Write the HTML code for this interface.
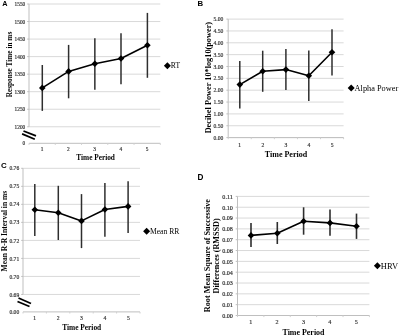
<!DOCTYPE html>
<html><head><meta charset="utf-8"><style>
html,body{margin:0;padding:0;background:#fff;width:400px;height:336px;overflow:hidden}
svg{display:block;will-change:transform}
text{font-family:"Liberation Serif",serif}
text.s{font-family:"Liberation Sans",sans-serif}
</style></head><body>
<svg width="400" height="336" viewBox="0 0 400 336">
<rect width="400" height="336" fill="#fff"/>
<line x1="29" y1="4" x2="160.3" y2="4" stroke="#d9d9d9" stroke-width="1" />
<line x1="29" y1="21.54" x2="160.3" y2="21.54" stroke="#d9d9d9" stroke-width="1" />
<line x1="29" y1="39.08" x2="160.3" y2="39.08" stroke="#d9d9d9" stroke-width="1" />
<line x1="29" y1="56.62" x2="160.3" y2="56.62" stroke="#d9d9d9" stroke-width="1" />
<line x1="29" y1="74.16" x2="160.3" y2="74.16" stroke="#d9d9d9" stroke-width="1" />
<line x1="29" y1="91.7" x2="160.3" y2="91.7" stroke="#d9d9d9" stroke-width="1" />
<line x1="29" y1="109.24" x2="160.3" y2="109.24" stroke="#d9d9d9" stroke-width="1" />
<line x1="29" y1="126.78" x2="160.3" y2="126.78" stroke="#d9d9d9" stroke-width="1" />
<text x="25.2" y="6.01" font-size="5.3" font-weight="normal" text-anchor="end" fill="#2a2a2a" stroke="#2a2a2a" stroke-width="0.15">1550</text>
<text x="25.2" y="23.55" font-size="5.3" font-weight="normal" text-anchor="end" fill="#2a2a2a" stroke="#2a2a2a" stroke-width="0.15">1500</text>
<text x="25.2" y="41.09" font-size="5.3" font-weight="normal" text-anchor="end" fill="#2a2a2a" stroke="#2a2a2a" stroke-width="0.15">1450</text>
<text x="25.2" y="58.63" font-size="5.3" font-weight="normal" text-anchor="end" fill="#2a2a2a" stroke="#2a2a2a" stroke-width="0.15">1400</text>
<text x="25.2" y="76.17" font-size="5.3" font-weight="normal" text-anchor="end" fill="#2a2a2a" stroke="#2a2a2a" stroke-width="0.15">1350</text>
<text x="25.2" y="93.71" font-size="5.3" font-weight="normal" text-anchor="end" fill="#2a2a2a" stroke="#2a2a2a" stroke-width="0.15">1300</text>
<text x="25.2" y="111.25" font-size="5.3" font-weight="normal" text-anchor="end" fill="#2a2a2a" stroke="#2a2a2a" stroke-width="0.15">1250</text>
<text x="25.2" y="128.79" font-size="5.3" font-weight="normal" text-anchor="end" fill="#2a2a2a" stroke="#2a2a2a" stroke-width="0.15">1200</text>
<text x="25.2" y="145.31" font-size="5.3" font-weight="normal" text-anchor="end" fill="#2a2a2a" stroke="#2a2a2a" stroke-width="0.15">0</text>
<line x1="27.2" y1="4" x2="29" y2="4" stroke="#bfbfbf" stroke-width="1" />
<line x1="27.2" y1="21.54" x2="29" y2="21.54" stroke="#bfbfbf" stroke-width="1" />
<line x1="27.2" y1="39.08" x2="29" y2="39.08" stroke="#bfbfbf" stroke-width="1" />
<line x1="27.2" y1="56.62" x2="29" y2="56.62" stroke="#bfbfbf" stroke-width="1" />
<line x1="27.2" y1="74.16" x2="29" y2="74.16" stroke="#bfbfbf" stroke-width="1" />
<line x1="27.2" y1="91.7" x2="29" y2="91.7" stroke="#bfbfbf" stroke-width="1" />
<line x1="27.2" y1="109.24" x2="29" y2="109.24" stroke="#bfbfbf" stroke-width="1" />
<line x1="27.2" y1="126.78" x2="29" y2="126.78" stroke="#bfbfbf" stroke-width="1" />
<line x1="29" y1="4" x2="29" y2="126.8" stroke="#bfbfbf" stroke-width="1" />
<line x1="29" y1="143.3" x2="160.3" y2="143.3" stroke="#bfbfbf" stroke-width="1" />
<line x1="29" y1="143.3" x2="29" y2="144.9" stroke="#d0d0d0" stroke-width="1" />
<line x1="55.26" y1="143.3" x2="55.26" y2="144.9" stroke="#d0d0d0" stroke-width="1" />
<line x1="81.52" y1="143.3" x2="81.52" y2="144.9" stroke="#d0d0d0" stroke-width="1" />
<line x1="107.78" y1="143.3" x2="107.78" y2="144.9" stroke="#d0d0d0" stroke-width="1" />
<line x1="134.04" y1="143.3" x2="134.04" y2="144.9" stroke="#d0d0d0" stroke-width="1" />
<line x1="160.3" y1="143.3" x2="160.3" y2="144.9" stroke="#d0d0d0" stroke-width="1" />
<text x="42.13" y="151.3" font-size="5.3" font-weight="normal" text-anchor="middle" fill="#2a2a2a" stroke="#2a2a2a" stroke-width="0.15">1</text>
<text x="68.39" y="151.3" font-size="5.3" font-weight="normal" text-anchor="middle" fill="#2a2a2a" stroke="#2a2a2a" stroke-width="0.15">2</text>
<text x="94.65" y="151.3" font-size="5.3" font-weight="normal" text-anchor="middle" fill="#2a2a2a" stroke="#2a2a2a" stroke-width="0.15">3</text>
<text x="120.91" y="151.3" font-size="5.3" font-weight="normal" text-anchor="middle" fill="#2a2a2a" stroke="#2a2a2a" stroke-width="0.15">4</text>
<text x="147.17" y="151.3" font-size="5.3" font-weight="normal" text-anchor="middle" fill="#2a2a2a" stroke="#2a2a2a" stroke-width="0.15">5</text>
<line x1="23.5" y1="131" x2="36" y2="135.9" stroke="#000" stroke-width="1.8" />
<line x1="22.1" y1="133.9" x2="34.8" y2="139.25" stroke="#000" stroke-width="1.8" />
<line x1="42.3" y1="65" x2="42.3" y2="110.9" stroke="#2e2e2e" stroke-width="1.5" />
<line x1="68.6" y1="44.9" x2="68.6" y2="98.3" stroke="#2e2e2e" stroke-width="1.5" />
<line x1="94.85" y1="38.3" x2="94.85" y2="89.7" stroke="#2e2e2e" stroke-width="1.5" />
<line x1="121" y1="33.2" x2="121" y2="84.3" stroke="#2e2e2e" stroke-width="1.5" />
<line x1="147.4" y1="12.9" x2="147.4" y2="77.8" stroke="#2e2e2e" stroke-width="1.5" />
<polyline points="42.3,87.9 68.6,71.4 94.85,63.8 121,58.5 147.4,45.3" fill="none" stroke="#000" stroke-width="1.6" stroke-linejoin="round"/>
<path d="M42.3 84.6L45.6 87.9L42.3 91.2L39 87.9Z" fill="#000"/>
<path d="M68.6 68.1L71.9 71.4L68.6 74.7L65.3 71.4Z" fill="#000"/>
<path d="M94.85 60.5L98.15 63.8L94.85 67.1L91.55 63.8Z" fill="#000"/>
<path d="M121 55.2L124.3 58.5L121 61.8L117.7 58.5Z" fill="#000"/>
<path d="M147.4 42L150.7 45.3L147.4 48.6L144.1 45.3Z" fill="#000"/>
<text x="95.65" y="160" font-size="7.3" font-weight="bold" text-anchor="middle" fill="#000" >Time Period</text>
<text x="0" y="0" font-size="7.3" font-weight="bold" text-anchor="middle" fill="#000" transform="translate(12.2 64.55) rotate(-90)">Response Time in ms</text>
<path d="M167.4 62.2L170.9 65.7L167.4 69.2L163.9 65.7Z" fill="#000"/>
<text x="170.8" y="68.21" font-size="7.6" font-weight="normal" text-anchor="start" fill="#000" >RT</text>
<text x="2.2" y="6.2" class="s" font-size="7.3" font-weight="bold" text-anchor="start" fill="#000" >A</text>
<line x1="228.2" y1="19.1" x2="343.6" y2="19.1" stroke="#d9d9d9" stroke-width="1" />
<line x1="228.2" y1="30.95" x2="343.6" y2="30.95" stroke="#d9d9d9" stroke-width="1" />
<line x1="228.2" y1="42.8" x2="343.6" y2="42.8" stroke="#d9d9d9" stroke-width="1" />
<line x1="228.2" y1="54.65" x2="343.6" y2="54.65" stroke="#d9d9d9" stroke-width="1" />
<line x1="228.2" y1="66.5" x2="343.6" y2="66.5" stroke="#d9d9d9" stroke-width="1" />
<line x1="228.2" y1="78.35" x2="343.6" y2="78.35" stroke="#d9d9d9" stroke-width="1" />
<line x1="228.2" y1="90.2" x2="343.6" y2="90.2" stroke="#d9d9d9" stroke-width="1" />
<line x1="228.2" y1="102.05" x2="343.6" y2="102.05" stroke="#d9d9d9" stroke-width="1" />
<line x1="228.2" y1="113.9" x2="343.6" y2="113.9" stroke="#d9d9d9" stroke-width="1" />
<line x1="228.2" y1="125.75" x2="343.6" y2="125.75" stroke="#d9d9d9" stroke-width="1" />
<line x1="228.2" y1="137.6" x2="343.6" y2="137.6" stroke="#d9d9d9" stroke-width="1" />
<text x="223.3" y="21.23" font-size="5.6" font-weight="normal" text-anchor="end" fill="#2a2a2a" stroke="#2a2a2a" stroke-width="0.15">5.00</text>
<text x="223.3" y="33.08" font-size="5.6" font-weight="normal" text-anchor="end" fill="#2a2a2a" stroke="#2a2a2a" stroke-width="0.15">4.50</text>
<text x="223.3" y="44.93" font-size="5.6" font-weight="normal" text-anchor="end" fill="#2a2a2a" stroke="#2a2a2a" stroke-width="0.15">4.00</text>
<text x="223.3" y="56.78" font-size="5.6" font-weight="normal" text-anchor="end" fill="#2a2a2a" stroke="#2a2a2a" stroke-width="0.15">3.50</text>
<text x="223.3" y="68.63" font-size="5.6" font-weight="normal" text-anchor="end" fill="#2a2a2a" stroke="#2a2a2a" stroke-width="0.15">3.00</text>
<text x="223.3" y="80.48" font-size="5.6" font-weight="normal" text-anchor="end" fill="#2a2a2a" stroke="#2a2a2a" stroke-width="0.15">2.50</text>
<text x="223.3" y="92.33" font-size="5.6" font-weight="normal" text-anchor="end" fill="#2a2a2a" stroke="#2a2a2a" stroke-width="0.15">2.00</text>
<text x="223.3" y="104.18" font-size="5.6" font-weight="normal" text-anchor="end" fill="#2a2a2a" stroke="#2a2a2a" stroke-width="0.15">1.50</text>
<text x="223.3" y="116.03" font-size="5.6" font-weight="normal" text-anchor="end" fill="#2a2a2a" stroke="#2a2a2a" stroke-width="0.15">1.00</text>
<text x="223.3" y="127.88" font-size="5.6" font-weight="normal" text-anchor="end" fill="#2a2a2a" stroke="#2a2a2a" stroke-width="0.15">0.50</text>
<text x="223.3" y="139.73" font-size="5.6" font-weight="normal" text-anchor="end" fill="#2a2a2a" stroke="#2a2a2a" stroke-width="0.15">0.00</text>
<line x1="226.4" y1="19.1" x2="228.2" y2="19.1" stroke="#bfbfbf" stroke-width="1" />
<line x1="226.4" y1="30.95" x2="228.2" y2="30.95" stroke="#bfbfbf" stroke-width="1" />
<line x1="226.4" y1="42.8" x2="228.2" y2="42.8" stroke="#bfbfbf" stroke-width="1" />
<line x1="226.4" y1="54.65" x2="228.2" y2="54.65" stroke="#bfbfbf" stroke-width="1" />
<line x1="226.4" y1="66.5" x2="228.2" y2="66.5" stroke="#bfbfbf" stroke-width="1" />
<line x1="226.4" y1="78.35" x2="228.2" y2="78.35" stroke="#bfbfbf" stroke-width="1" />
<line x1="226.4" y1="90.2" x2="228.2" y2="90.2" stroke="#bfbfbf" stroke-width="1" />
<line x1="226.4" y1="102.05" x2="228.2" y2="102.05" stroke="#bfbfbf" stroke-width="1" />
<line x1="226.4" y1="113.9" x2="228.2" y2="113.9" stroke="#bfbfbf" stroke-width="1" />
<line x1="226.4" y1="125.75" x2="228.2" y2="125.75" stroke="#bfbfbf" stroke-width="1" />
<line x1="226.4" y1="137.6" x2="228.2" y2="137.6" stroke="#bfbfbf" stroke-width="1" />
<line x1="228.2" y1="19.1" x2="228.2" y2="137.6" stroke="#bfbfbf" stroke-width="1" />
<line x1="228.2" y1="137.6" x2="343.6" y2="137.6" stroke="#bfbfbf" stroke-width="1" />
<line x1="228.2" y1="137.6" x2="228.2" y2="139.2" stroke="#d0d0d0" stroke-width="1" />
<line x1="251.28" y1="137.6" x2="251.28" y2="139.2" stroke="#d0d0d0" stroke-width="1" />
<line x1="274.36" y1="137.6" x2="274.36" y2="139.2" stroke="#d0d0d0" stroke-width="1" />
<line x1="297.44" y1="137.6" x2="297.44" y2="139.2" stroke="#d0d0d0" stroke-width="1" />
<line x1="320.52" y1="137.6" x2="320.52" y2="139.2" stroke="#d0d0d0" stroke-width="1" />
<line x1="343.6" y1="137.6" x2="343.6" y2="139.2" stroke="#d0d0d0" stroke-width="1" />
<text x="239.74" y="146.6" font-size="5.6" font-weight="normal" text-anchor="middle" fill="#2a2a2a" stroke="#2a2a2a" stroke-width="0.15">1</text>
<text x="262.82" y="146.6" font-size="5.6" font-weight="normal" text-anchor="middle" fill="#2a2a2a" stroke="#2a2a2a" stroke-width="0.15">2</text>
<text x="285.9" y="146.6" font-size="5.6" font-weight="normal" text-anchor="middle" fill="#2a2a2a" stroke="#2a2a2a" stroke-width="0.15">3</text>
<text x="308.98" y="146.6" font-size="5.6" font-weight="normal" text-anchor="middle" fill="#2a2a2a" stroke="#2a2a2a" stroke-width="0.15">4</text>
<text x="332.06" y="146.6" font-size="5.6" font-weight="normal" text-anchor="middle" fill="#2a2a2a" stroke="#2a2a2a" stroke-width="0.15">5</text>
<line x1="239.8" y1="60.9" x2="239.8" y2="108.5" stroke="#2e2e2e" stroke-width="1.5" />
<line x1="262.7" y1="50.7" x2="262.7" y2="91.8" stroke="#2e2e2e" stroke-width="1.5" />
<line x1="285.9" y1="49" x2="285.9" y2="90.1" stroke="#2e2e2e" stroke-width="1.5" />
<line x1="308.8" y1="50.4" x2="308.8" y2="101" stroke="#2e2e2e" stroke-width="1.5" />
<line x1="332" y1="29.2" x2="332" y2="75.4" stroke="#2e2e2e" stroke-width="1.5" />
<polyline points="239.8,84.6 262.7,71.2 285.9,69.6 308.8,75.8 332,52.2" fill="none" stroke="#000" stroke-width="1.6" stroke-linejoin="round"/>
<path d="M239.8 81.3L243.1 84.6L239.8 87.9L236.5 84.6Z" fill="#000"/>
<path d="M262.7 67.9L266 71.2L262.7 74.5L259.4 71.2Z" fill="#000"/>
<path d="M285.9 66.3L289.2 69.6L285.9 72.9L282.6 69.6Z" fill="#000"/>
<path d="M308.8 72.5L312.1 75.8L308.8 79.1L305.5 75.8Z" fill="#000"/>
<path d="M332 48.9L335.3 52.2L332 55.5L328.7 52.2Z" fill="#000"/>
<text x="286" y="156.9" font-size="8" font-weight="bold" text-anchor="middle" fill="#000" >Time Period</text>
<text x="0" y="0" font-size="8.27" font-weight="bold" text-anchor="middle" fill="#000" transform="translate(210.8 77.65) rotate(-90)">Decibel Power 10*log10(power)</text>
<path d="M351.2 84.5L354.7 88L351.2 91.5L347.7 88Z" fill="#000"/>
<text x="354.6" y="90.74" font-size="8.3" font-weight="normal" text-anchor="start" fill="#000" >Alpha Power</text>
<text x="197.4" y="6.3" class="s" font-size="7.8" font-weight="bold" text-anchor="start" fill="#000" >B</text>
<line x1="23" y1="168.3" x2="140" y2="168.3" stroke="#d9d9d9" stroke-width="1" />
<line x1="23" y1="186.32" x2="140" y2="186.32" stroke="#d9d9d9" stroke-width="1" />
<line x1="23" y1="204.34" x2="140" y2="204.34" stroke="#d9d9d9" stroke-width="1" />
<line x1="23" y1="222.36" x2="140" y2="222.36" stroke="#d9d9d9" stroke-width="1" />
<line x1="23" y1="240.38" x2="140" y2="240.38" stroke="#d9d9d9" stroke-width="1" />
<line x1="23" y1="258.4" x2="140" y2="258.4" stroke="#d9d9d9" stroke-width="1" />
<line x1="23" y1="276.42" x2="140" y2="276.42" stroke="#d9d9d9" stroke-width="1" />
<line x1="23" y1="294.44" x2="140" y2="294.44" stroke="#d9d9d9" stroke-width="1" />
<text x="19.2" y="170.43" font-size="5.6" font-weight="normal" text-anchor="end" fill="#2a2a2a" stroke="#2a2a2a" stroke-width="0.15">0.76</text>
<text x="19.2" y="188.45" font-size="5.6" font-weight="normal" text-anchor="end" fill="#2a2a2a" stroke="#2a2a2a" stroke-width="0.15">0.75</text>
<text x="19.2" y="206.47" font-size="5.6" font-weight="normal" text-anchor="end" fill="#2a2a2a" stroke="#2a2a2a" stroke-width="0.15">0.74</text>
<text x="19.2" y="224.49" font-size="5.6" font-weight="normal" text-anchor="end" fill="#2a2a2a" stroke="#2a2a2a" stroke-width="0.15">0.73</text>
<text x="19.2" y="242.51" font-size="5.6" font-weight="normal" text-anchor="end" fill="#2a2a2a" stroke="#2a2a2a" stroke-width="0.15">0.72</text>
<text x="19.2" y="260.53" font-size="5.6" font-weight="normal" text-anchor="end" fill="#2a2a2a" stroke="#2a2a2a" stroke-width="0.15">0.71</text>
<text x="19.2" y="278.55" font-size="5.6" font-weight="normal" text-anchor="end" fill="#2a2a2a" stroke="#2a2a2a" stroke-width="0.15">0.70</text>
<text x="19.2" y="296.57" font-size="5.6" font-weight="normal" text-anchor="end" fill="#2a2a2a" stroke="#2a2a2a" stroke-width="0.15">0.69</text>
<text x="19.2" y="314.03" font-size="5.6" font-weight="normal" text-anchor="end" fill="#2a2a2a" stroke="#2a2a2a" stroke-width="0.15">0.00</text>
<line x1="21.2" y1="168.3" x2="23" y2="168.3" stroke="#bfbfbf" stroke-width="1" />
<line x1="21.2" y1="186.32" x2="23" y2="186.32" stroke="#bfbfbf" stroke-width="1" />
<line x1="21.2" y1="204.34" x2="23" y2="204.34" stroke="#bfbfbf" stroke-width="1" />
<line x1="21.2" y1="222.36" x2="23" y2="222.36" stroke="#bfbfbf" stroke-width="1" />
<line x1="21.2" y1="240.38" x2="23" y2="240.38" stroke="#bfbfbf" stroke-width="1" />
<line x1="21.2" y1="258.4" x2="23" y2="258.4" stroke="#bfbfbf" stroke-width="1" />
<line x1="21.2" y1="276.42" x2="23" y2="276.42" stroke="#bfbfbf" stroke-width="1" />
<line x1="21.2" y1="294.44" x2="23" y2="294.44" stroke="#bfbfbf" stroke-width="1" />
<line x1="23" y1="168.3" x2="23" y2="294.4" stroke="#bfbfbf" stroke-width="1" />
<line x1="23" y1="311.9" x2="140" y2="311.9" stroke="#bfbfbf" stroke-width="1" />
<line x1="23" y1="311.9" x2="23" y2="313.5" stroke="#d0d0d0" stroke-width="1" />
<line x1="46.4" y1="311.9" x2="46.4" y2="313.5" stroke="#d0d0d0" stroke-width="1" />
<line x1="69.8" y1="311.9" x2="69.8" y2="313.5" stroke="#d0d0d0" stroke-width="1" />
<line x1="93.2" y1="311.9" x2="93.2" y2="313.5" stroke="#d0d0d0" stroke-width="1" />
<line x1="116.6" y1="311.9" x2="116.6" y2="313.5" stroke="#d0d0d0" stroke-width="1" />
<line x1="140" y1="311.9" x2="140" y2="313.5" stroke="#d0d0d0" stroke-width="1" />
<text x="34.7" y="320.3" font-size="5.6" font-weight="normal" text-anchor="middle" fill="#2a2a2a" stroke="#2a2a2a" stroke-width="0.15">1</text>
<text x="58.1" y="320.3" font-size="5.6" font-weight="normal" text-anchor="middle" fill="#2a2a2a" stroke="#2a2a2a" stroke-width="0.15">2</text>
<text x="81.5" y="320.3" font-size="5.6" font-weight="normal" text-anchor="middle" fill="#2a2a2a" stroke="#2a2a2a" stroke-width="0.15">3</text>
<text x="104.9" y="320.3" font-size="5.6" font-weight="normal" text-anchor="middle" fill="#2a2a2a" stroke="#2a2a2a" stroke-width="0.15">4</text>
<text x="128.3" y="320.3" font-size="5.6" font-weight="normal" text-anchor="middle" fill="#2a2a2a" stroke="#2a2a2a" stroke-width="0.15">5</text>
<line x1="18.5" y1="298" x2="31" y2="303.5" stroke="#000" stroke-width="1.8" />
<line x1="17.5" y1="301.5" x2="29.5" y2="306.5" stroke="#000" stroke-width="1.8" />
<line x1="34.8" y1="184" x2="34.8" y2="236.1" stroke="#2e2e2e" stroke-width="1.5" />
<line x1="58.3" y1="185.8" x2="58.3" y2="240" stroke="#2e2e2e" stroke-width="1.5" />
<line x1="81.5" y1="194.1" x2="81.5" y2="248.1" stroke="#2e2e2e" stroke-width="1.5" />
<line x1="104.9" y1="183.1" x2="104.9" y2="236.8" stroke="#2e2e2e" stroke-width="1.5" />
<line x1="128.1" y1="181.2" x2="128.1" y2="233.1" stroke="#2e2e2e" stroke-width="1.5" />
<polyline points="34.8,209.7 58.3,212.7 81.5,220.9 104.9,209.5 128.1,206.4" fill="none" stroke="#000" stroke-width="1.6" stroke-linejoin="round"/>
<path d="M34.8 206.4L38.1 209.7L34.8 213L31.5 209.7Z" fill="#000"/>
<path d="M58.3 209.4L61.6 212.7L58.3 216L55 212.7Z" fill="#000"/>
<path d="M81.5 217.6L84.8 220.9L81.5 224.2L78.2 220.9Z" fill="#000"/>
<path d="M104.9 206.2L108.2 209.5L104.9 212.8L101.6 209.5Z" fill="#000"/>
<path d="M128.1 203.1L131.4 206.4L128.1 209.7L124.8 206.4Z" fill="#000"/>
<text x="81.7" y="329.6" font-size="7.4" font-weight="bold" text-anchor="middle" fill="#000" >Time Period</text>
<text x="0" y="0" font-size="7.52" font-weight="bold" text-anchor="middle" fill="#000" transform="translate(6.7 231.1) rotate(-90)">Mean R-R Interval in ms</text>
<path d="M146.6 227.7L150.1 231.2L146.6 234.7L143.1 231.2Z" fill="#000"/>
<text x="150" y="233.71" font-size="7.6" font-weight="normal" text-anchor="start" fill="#000" >Mean RR</text>
<text x="1" y="167.75" class="s" font-size="7.9" font-weight="bold" text-anchor="start" fill="#000" >C</text>
<line x1="237.5" y1="196.4" x2="369.4" y2="196.4" stroke="#d9d9d9" stroke-width="1" />
<line x1="237.5" y1="207.23" x2="369.4" y2="207.23" stroke="#d9d9d9" stroke-width="1" />
<line x1="237.5" y1="218.05" x2="369.4" y2="218.05" stroke="#d9d9d9" stroke-width="1" />
<line x1="237.5" y1="228.88" x2="369.4" y2="228.88" stroke="#d9d9d9" stroke-width="1" />
<line x1="237.5" y1="239.71" x2="369.4" y2="239.71" stroke="#d9d9d9" stroke-width="1" />
<line x1="237.5" y1="250.54" x2="369.4" y2="250.54" stroke="#d9d9d9" stroke-width="1" />
<line x1="237.5" y1="261.36" x2="369.4" y2="261.36" stroke="#d9d9d9" stroke-width="1" />
<line x1="237.5" y1="272.19" x2="369.4" y2="272.19" stroke="#d9d9d9" stroke-width="1" />
<line x1="237.5" y1="283.02" x2="369.4" y2="283.02" stroke="#d9d9d9" stroke-width="1" />
<line x1="237.5" y1="293.85" x2="369.4" y2="293.85" stroke="#d9d9d9" stroke-width="1" />
<line x1="237.5" y1="304.67" x2="369.4" y2="304.67" stroke="#d9d9d9" stroke-width="1" />
<line x1="237.5" y1="315.5" x2="369.4" y2="315.5" stroke="#d9d9d9" stroke-width="1" />
<text x="232.8" y="198.72" font-size="6.1" font-weight="normal" text-anchor="end" fill="#2a2a2a" stroke="#2a2a2a" stroke-width="0.15">0.11</text>
<text x="232.8" y="209.55" font-size="6.1" font-weight="normal" text-anchor="end" fill="#2a2a2a" stroke="#2a2a2a" stroke-width="0.15">0.10</text>
<text x="232.8" y="220.37" font-size="6.1" font-weight="normal" text-anchor="end" fill="#2a2a2a" stroke="#2a2a2a" stroke-width="0.15">0.09</text>
<text x="232.8" y="231.2" font-size="6.1" font-weight="normal" text-anchor="end" fill="#2a2a2a" stroke="#2a2a2a" stroke-width="0.15">0.08</text>
<text x="232.8" y="242.03" font-size="6.1" font-weight="normal" text-anchor="end" fill="#2a2a2a" stroke="#2a2a2a" stroke-width="0.15">0.07</text>
<text x="232.8" y="252.85" font-size="6.1" font-weight="normal" text-anchor="end" fill="#2a2a2a" stroke="#2a2a2a" stroke-width="0.15">0.06</text>
<text x="232.8" y="263.68" font-size="6.1" font-weight="normal" text-anchor="end" fill="#2a2a2a" stroke="#2a2a2a" stroke-width="0.15">0.05</text>
<text x="232.8" y="274.51" font-size="6.1" font-weight="normal" text-anchor="end" fill="#2a2a2a" stroke="#2a2a2a" stroke-width="0.15">0.04</text>
<text x="232.8" y="285.34" font-size="6.1" font-weight="normal" text-anchor="end" fill="#2a2a2a" stroke="#2a2a2a" stroke-width="0.15">0.03</text>
<text x="232.8" y="296.16" font-size="6.1" font-weight="normal" text-anchor="end" fill="#2a2a2a" stroke="#2a2a2a" stroke-width="0.15">0.02</text>
<text x="232.8" y="306.99" font-size="6.1" font-weight="normal" text-anchor="end" fill="#2a2a2a" stroke="#2a2a2a" stroke-width="0.15">0.01</text>
<text x="232.8" y="317.82" font-size="6.1" font-weight="normal" text-anchor="end" fill="#2a2a2a" stroke="#2a2a2a" stroke-width="0.15">0.00</text>
<line x1="235.7" y1="196.4" x2="237.5" y2="196.4" stroke="#bfbfbf" stroke-width="1" />
<line x1="235.7" y1="207.23" x2="237.5" y2="207.23" stroke="#bfbfbf" stroke-width="1" />
<line x1="235.7" y1="218.05" x2="237.5" y2="218.05" stroke="#bfbfbf" stroke-width="1" />
<line x1="235.7" y1="228.88" x2="237.5" y2="228.88" stroke="#bfbfbf" stroke-width="1" />
<line x1="235.7" y1="239.71" x2="237.5" y2="239.71" stroke="#bfbfbf" stroke-width="1" />
<line x1="235.7" y1="250.54" x2="237.5" y2="250.54" stroke="#bfbfbf" stroke-width="1" />
<line x1="235.7" y1="261.36" x2="237.5" y2="261.36" stroke="#bfbfbf" stroke-width="1" />
<line x1="235.7" y1="272.19" x2="237.5" y2="272.19" stroke="#bfbfbf" stroke-width="1" />
<line x1="235.7" y1="283.02" x2="237.5" y2="283.02" stroke="#bfbfbf" stroke-width="1" />
<line x1="235.7" y1="293.85" x2="237.5" y2="293.85" stroke="#bfbfbf" stroke-width="1" />
<line x1="235.7" y1="304.67" x2="237.5" y2="304.67" stroke="#bfbfbf" stroke-width="1" />
<line x1="235.7" y1="315.5" x2="237.5" y2="315.5" stroke="#bfbfbf" stroke-width="1" />
<line x1="237.5" y1="196.4" x2="237.5" y2="315.5" stroke="#bfbfbf" stroke-width="1" />
<line x1="237.5" y1="315.5" x2="369.4" y2="315.5" stroke="#bfbfbf" stroke-width="1" />
<line x1="237.5" y1="315.5" x2="237.5" y2="317.1" stroke="#d0d0d0" stroke-width="1" />
<line x1="263.88" y1="315.5" x2="263.88" y2="317.1" stroke="#d0d0d0" stroke-width="1" />
<line x1="290.26" y1="315.5" x2="290.26" y2="317.1" stroke="#d0d0d0" stroke-width="1" />
<line x1="316.64" y1="315.5" x2="316.64" y2="317.1" stroke="#d0d0d0" stroke-width="1" />
<line x1="343.02" y1="315.5" x2="343.02" y2="317.1" stroke="#d0d0d0" stroke-width="1" />
<line x1="369.4" y1="315.5" x2="369.4" y2="317.1" stroke="#d0d0d0" stroke-width="1" />
<text x="250.69" y="324.3" font-size="6.1" font-weight="normal" text-anchor="middle" fill="#2a2a2a" stroke="#2a2a2a" stroke-width="0.15">1</text>
<text x="277.07" y="324.3" font-size="6.1" font-weight="normal" text-anchor="middle" fill="#2a2a2a" stroke="#2a2a2a" stroke-width="0.15">2</text>
<text x="303.45" y="324.3" font-size="6.1" font-weight="normal" text-anchor="middle" fill="#2a2a2a" stroke="#2a2a2a" stroke-width="0.15">3</text>
<text x="329.83" y="324.3" font-size="6.1" font-weight="normal" text-anchor="middle" fill="#2a2a2a" stroke="#2a2a2a" stroke-width="0.15">4</text>
<text x="356.21" y="324.3" font-size="6.1" font-weight="normal" text-anchor="middle" fill="#2a2a2a" stroke="#2a2a2a" stroke-width="0.15">5</text>
<line x1="251" y1="223.1" x2="251" y2="247" stroke="#2e2e2e" stroke-width="1.6" />
<line x1="277.3" y1="222" x2="277.3" y2="244" stroke="#2e2e2e" stroke-width="1.6" />
<line x1="303.6" y1="207.3" x2="303.6" y2="234.7" stroke="#2e2e2e" stroke-width="1.6" />
<line x1="330" y1="209.4" x2="330" y2="235.7" stroke="#2e2e2e" stroke-width="1.6" />
<line x1="356.5" y1="213.6" x2="356.5" y2="238.9" stroke="#2e2e2e" stroke-width="1.6" />
<polyline points="251,235.4 277.3,233.3 303.6,221.2 330,222.9 356.5,226.2" fill="none" stroke="#000" stroke-width="1.6" stroke-linejoin="round"/>
<path d="M251 232.1L254.3 235.4L251 238.7L247.7 235.4Z" fill="#000"/>
<path d="M277.3 230L280.6 233.3L277.3 236.6L274 233.3Z" fill="#000"/>
<path d="M303.6 217.9L306.9 221.2L303.6 224.5L300.3 221.2Z" fill="#000"/>
<path d="M330 219.6L333.3 222.9L330 226.2L326.7 222.9Z" fill="#000"/>
<path d="M356.5 222.9L359.8 226.2L356.5 229.5L353.2 226.2Z" fill="#000"/>
<text x="303.5" y="334.8" font-size="7.95" font-weight="bold" text-anchor="middle" fill="#000" >Time Period</text>
<text x="0" y="0" font-size="8.2" font-weight="bold" text-anchor="middle" fill="#000" transform="translate(210 255.6) rotate(-90)">Root Mean Square of Successive</text>
<text x="0" y="0" font-size="8.15" font-weight="bold" text-anchor="middle" fill="#000" transform="translate(219 255.9) rotate(-90)">Differences (RMSSD)</text>
<path d="M377.4 262.2L380.9 265.7L377.4 269.2L373.9 265.7Z" fill="#000"/>
<text x="380.8" y="268.5" font-size="8.5" font-weight="normal" text-anchor="start" fill="#000" >HRV</text>
<text x="197.5" y="179.5" class="s" font-size="8.2" font-weight="bold" text-anchor="start" fill="#000" >D</text>
</svg>
</body></html>
